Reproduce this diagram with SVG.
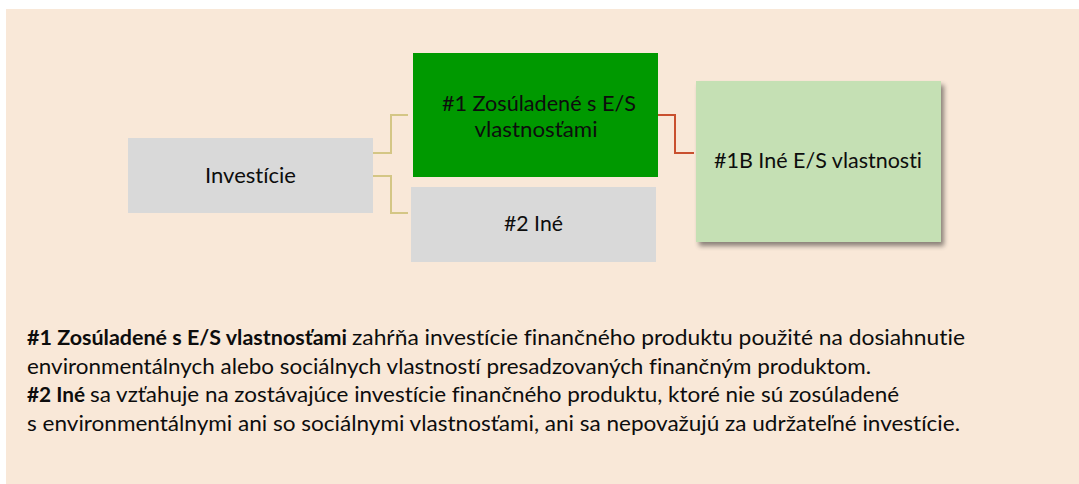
<svg xmlns="http://www.w3.org/2000/svg" width="1079" height="484" viewBox="0 0 1079 484">
  <defs>
    <filter id="shadow" x="-10%" y="-10%" width="125%" height="125%">
      <feGaussianBlur in="SourceAlpha" stdDeviation="2.5"/>
      <feOffset dx="3" dy="4" result="b"/>
      <feComponentTransfer><feFuncA type="linear" slope="0.45"/></feComponentTransfer>
      <feMerge><feMergeNode/><feMergeNode in="SourceGraphic"/></feMerge>
    </filter>
  </defs>
  <style>
    .t { font-family: Lato, "Liberation Sans", sans-serif; fill: #0d0d0d; font-variant-ligatures: none; font-feature-settings: "liga" 0, "clig" 0, "dlig" 0; }
    .box { font-size: 22px; }
    .para { font-size: 21px; }
    .b { font-weight: bold; }
    .gold { fill: none; stroke: #D4C685; stroke-width: 2; }
    .red { fill: none; stroke: #C9502F; stroke-width: 2; }
  </style>
  <rect x="6" y="9" width="1073" height="475" fill="#F9E8D8"/>

  <g id="connectors">
    <path class="gold" d="M373,153 H391 V115 H408"/>
    <path class="gold" d="M373,176 H391 V213 H408"/>
    <path class="red" d="M658,115 H675 V153 H694"/>
  </g>

  <g id="investicie">
    <rect x="128" y="138" width="245" height="75" fill="#D9D9D9"/>
    <text class="t box" x="250.5" y="183" text-anchor="middle" textLength="91" lengthAdjust="spacingAndGlyphs">Investície</text>
  </g>

  <g id="zosuladene">
    <rect x="413" y="53" width="245" height="124" fill="#009900"/>
    <text class="t box" x="539" y="111" text-anchor="middle" textLength="194" lengthAdjust="spacingAndGlyphs">#1 Zosúladené s E/S</text>
    <text class="t box" x="536" y="137" text-anchor="middle" textLength="123" lengthAdjust="spacingAndGlyphs">vlastnosťami</text>
  </g>

  <g id="ine">
    <rect x="411" y="187" width="245" height="75" fill="#D9D9D9"/>
    <text class="t box" x="533.5" y="231" text-anchor="middle" textLength="59" lengthAdjust="spacingAndGlyphs">#2 Iné</text>
  </g>

  <g id="ine-es">
    <rect x="696" y="81" width="245" height="161" fill="#C5E0B4" filter="url(#shadow)"/>
    <text class="t box" x="818" y="168" text-anchor="middle" textLength="208" lengthAdjust="spacingAndGlyphs">#1B Iné E/S vlastnosti</text>
  </g>

  <g id="legend">
    <text class="t para b" x="27" y="345" textLength="320" lengthAdjust="spacingAndGlyphs">#1 Zosúladené s E/S vlastnosťami</text>
    <text class="t para" x="352" y="345" textLength="613" lengthAdjust="spacingAndGlyphs">zahŕňa investície finančného produktu použité na dosiahnutie</text>
    <text class="t para" x="27" y="373.5" textLength="844" lengthAdjust="spacingAndGlyphs">environmentálnych alebo sociálnych vlastností presadzovaných finančným produktom.</text>
    <text class="t para b" x="27" y="402" textLength="58" lengthAdjust="spacingAndGlyphs">#2 Iné</text>
    <text class="t para" x="90" y="402" textLength="809" lengthAdjust="spacingAndGlyphs">sa vzťahuje na zostávajúce investície finančného produktu, ktoré nie sú zosúladené</text>
    <text class="t para" x="27" y="430.5" textLength="933" lengthAdjust="spacingAndGlyphs">s environmentálnymi ani so sociálnymi vlastnosťami, ani sa nepovažujú za udržateľné investície.</text>
  </g>
</svg>
